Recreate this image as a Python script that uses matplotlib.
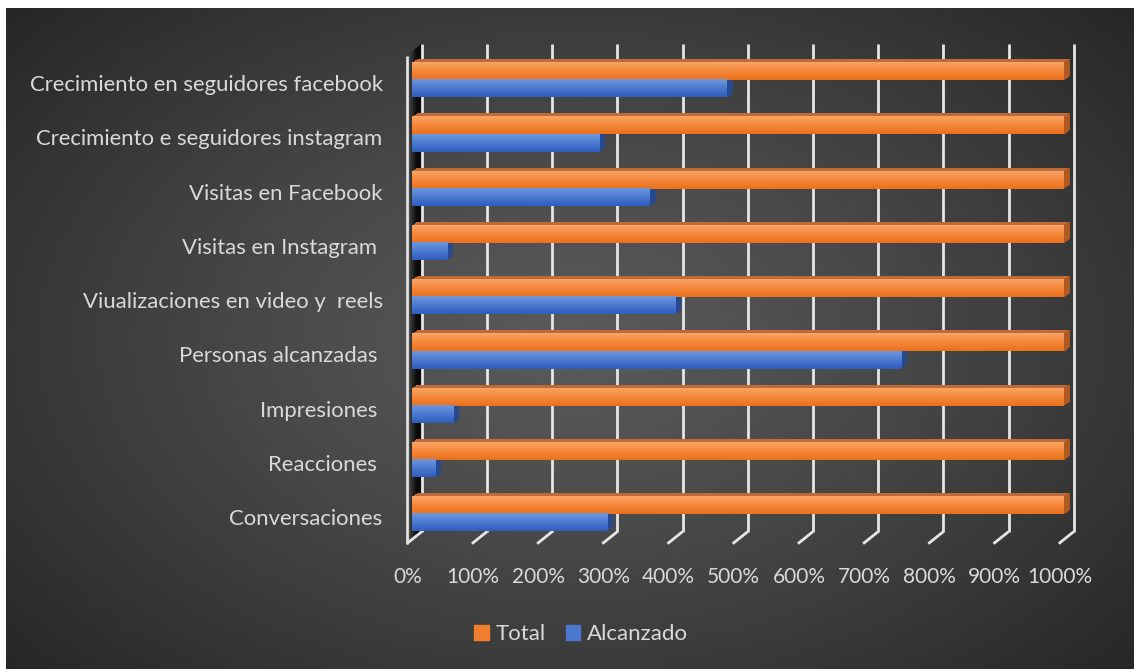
import numpy as np
import matplotlib
matplotlib.use("Agg")
import matplotlib.pyplot as plt
import matplotlib.transforms as mtrans
from matplotlib.colors import LinearSegmentedColormap

# datos (porcentajes)
categorias = ["Crecimiento en seguidores facebook",
              "Crecimiento e seguidores instagram",
              "Visitas en Facebook",
              "Visitas en Instagram ",
              "Viualizaciones en video y  reels",
              "Personas alcanzadas ",
              "Impresiones ",
              "Reacciones ",
              "Conversaciones"]
total = [1000, 1000, 1000, 1000, 1000, 1000, 1000, 1000, 1000]
alcanzado = [483, 287, 365, 54, 404, 750, 64, 36, 300]
ticks = [0, 100, 200, 300, 400, 500, 600, 700, 800, 900, 1000]
tick_labels = ["0%", "100%", "200%", "300%", "400%", "500%",
               "600%", "700%", "800%", "900%", "1000%"]
series = ["Total", "Alcanzado"]

plt.rcParams['font.family'] = ['Lato', 'DejaVu Sans']
txt_col = '#d9d9d9'

W, H = 1134, 669
fig = plt.figure(figsize=(W/100, H/100), dpi=100, facecolor='white')

# fondo con degradado radial
bg = fig.add_axes([6/W, 0, 1-6/W, 1-8/H])
bg.set_axis_off()
yy, xx = np.mgrid[0:200, 0:340]
r = np.sqrt(((xx-170)/230.0)**2 + ((yy-100)/150.0)**2)
r = np.clip(r, 0, 1)
bgmap = LinearSegmentedColormap.from_list('bg', ['#5a5a5a', '#262626'])
bg.imshow(r**1.2, cmap=bgmap, aspect='auto', extent=[0, 1, 0, 1], vmin=0, vmax=1)
bg.set_xlim(0, 1); bg.set_ylim(0, 1)

# ejes: plano frontal de las barras
ax = fig.add_axes([411.7/W, 1-539.7/H, 652/W, 487.7/H])
ax.set_xlim(0, 1000)
ax.set_ylim(8.47, -0.52)
ax.set_axis_off()

def off(dx, dy):
    return mtrans.offset_copy(ax.transData, fig=fig, x=dx, y=dy, units='dots')

back = off(10, 8)
front = off(-5, -4)
y0, y1 = ax.get_ylim()

# pared izquierda
for k in np.arange(-1, 10.5, 0.5):
    c = max(0.24 - 0.03*(k + 1), 0.04)
    ax.vlines(0, y1, y0, colors=[(c, c, c)], lw=1.2, transform=off(k, 0.8*k),
              zorder=1, clip_on=False)
ax.vlines(0, y1, y0, colors='#e0e0e0', lw=2, transform=front, zorder=3, clip_on=False)

# lineas de cuadricula (pared del fondo) y piso
for t, lab in zip(ticks, tick_labels):
    ax.vlines(t, y1, y0, colors='#e6e6e6', lw=2, transform=back, zorder=2, clip_on=False)
    p0 = back.transform((t, y0))
    p1 = front.transform((t, y0))
    ax.plot([p0[0], p1[0]], [p0[1], p1[1]], color='#e6e6e6', lw=2,
            transform=mtrans.IdentityTransform(), zorder=2, clip_on=False,
            solid_capstyle='butt')
    ax.text(t, y0, lab, transform=off(-4, -37), ha='center', va='center',
            fontsize=15, color=txt_col)

# barras 3D
h = 0.315
orange_cm = LinearSegmentedColormap.from_list('o', ['#f9a466', '#f4883a', '#ea711c'])
blue_cm = LinearSegmentedColormap.from_list('b', ['#6e98de', '#4b79cf', '#2f5dbd'])
grad = np.linspace(0, 1, 50).reshape(-1, 1)

for i in range(len(categorias)):
    for vals, yc, cm, side, top in [(total, i - h/2, orange_cm, '#b05a22', '#c06a3c'),
                                    (alcanzado, i + h/2, blue_cm, '#27498f', '#3d65b4')]:
        v = vals[i]
        for k in np.arange(5, 0, -0.5):
            ax.barh(yc, v, height=h, color=top, lw=0,
                    transform=off(k, 0.8*k), zorder=4, clip_on=False)
            ax.vlines(v, yc - h/2, yc + h/2, colors=side, lw=1.3,
                      transform=off(k, 0.8*k), zorder=4.5, clip_on=False)
        ax.imshow(grad, cmap=cm, aspect='auto', extent=[0, v, yc + h/2, yc - h/2],
                  zorder=5, interpolation='bilinear', clip_on=False)
    ax.text(0, i, categorias[i], transform=off(-29, -5), ha='right', va='center',
            fontsize=15.9, color=txt_col)

ax.set_xlim(0, 1000)
ax.set_ylim(8.47, -0.52)

# leyenda
handles = [plt.Rectangle((0, 0), 1, 1, color='#f07f2e'),
           plt.Rectangle((0, 0), 1, 1, color='#4a78cf')]
fig.legend(handles, series, loc='center', bbox_to_anchor=(581/W, 1-634/H), ncol=2,
           frameon=False, fontsize=16, labelcolor=txt_col, handlelength=0.65,
           handleheight=0.65, handletextpad=0.3, columnspacing=0.9)

fig.savefig("out.png", dpi=100, facecolor=fig.get_facecolor())
